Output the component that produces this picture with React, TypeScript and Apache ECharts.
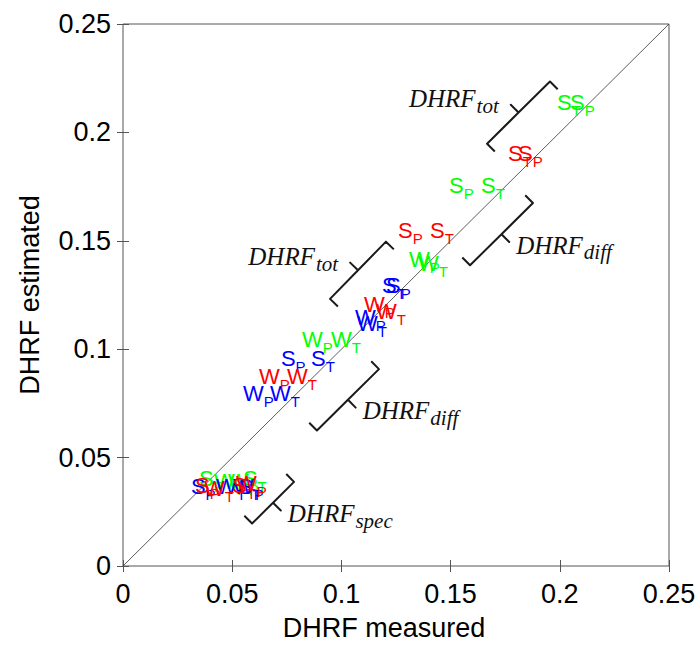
import React, { useEffect, useRef } from 'react';
import * as echarts from 'echarts';

// ---------- data ----------
const AXIS_MIN = 0;
const AXIS_MAX = 0.25;
const AXIS_STEP = 0.05;

const greenMeasured = [0.1987, 0.2047, 0.1493, 0.1639, 0.131, 0.1351, 0.082, 0.0952, 0.0348, 0.0549, 0.0417, 0.0481];
const greenEstimated = [0.2126, 0.2126, 0.1743, 0.1743, 0.1401, 0.1382, 0.1031, 0.1031, 0.0392, 0.0392, 0.0374, 0.0374];
const greenLabels = ['S_T', 'S_P', 'S_P', 'S_T', 'W_P', 'W_T', 'W_P', 'W_T', 'S_P', 'S_T', 'W_T', 'W_P'];

const redMeasured = [0.1763, 0.1809, 0.1259, 0.1406, 0.1103, 0.1158, 0.0623, 0.0751, 0.033, 0.0371, 0.0499, 0.0517];
const redEstimated = [0.1889, 0.1889, 0.1533, 0.1533, 0.1191, 0.1159, 0.0858, 0.0858, 0.0356, 0.0342, 0.0356, 0.0365];
const redLabels = ['S_T', 'S_P', 'S_P', 'S_T', 'W_P', 'W_T', 'W_P', 'W_T', 'S_P', 'W_T', 'S_T', 'W_P'];

const blueMeasured = [0.1186, 0.1204, 0.1062, 0.1071, 0.0723, 0.0861, 0.0549, 0.0673, 0.0311, 0.0426, 0.0504, 0.0526];
const blueEstimated = [0.1282, 0.1282, 0.1131, 0.1104, 0.0944, 0.0944, 0.078, 0.078, 0.0351, 0.0351, 0.0351, 0.0351];
const blueLabels = ['S_T', 'S_P', 'W_P', 'W_T', 'S_P', 'S_T', 'W_P', 'W_T', 'S_P', 'W_T', 'W_P', 'S_T'];

const identityLine = [
  [AXIS_MIN, AXIS_MIN],
  [AXIS_MAX, AXIS_MAX],
];

// braces: spine end points in data coordinates
const braceX1 = [0.1667, 0.0948, 0.1589, 0.0888, 0.0591];
const braceY1 = [0.1948, 0.1232, 0.1387, 0.0625, 0.0196];
const braceX2 = [0.1955, 0.1204, 0.1877, 0.1172, 0.0783];
const braceY2 = [0.2235, 0.1496, 0.1674, 0.0908, 0.0388];
const braceMain = ['DHRF', 'DHRF', 'DHRF', 'DHRF', 'DHRF'];
const braceSub = ['tot', 'tot', 'diff', 'diff', 'spec'];

// ---------- styles ----------
const SANS = '"Liberation Sans", Arial, Helvetica, sans-serif';
const SERIF = '"Liberation Serif", "Times New Roman", serif';
const PT_MAIN = 22;
const PT_SUB = 15;
const BR_MAIN = 25;
const BR_SUB = 21;

let measureCtx: CanvasRenderingContext2D | null = null;
function textWidth(t: string, font: string): number {
  if (!measureCtx) measureCtx = document.createElement('canvas').getContext('2d');
  if (!measureCtx) return t.length * 10;
  measureCtx.font = font;
  return measureCtx.measureText(t).width;
}

function pointSeries(xs: number[], ys: number[], labels: string[], color: string) {
  return {
    type: 'custom',
    coordinateSystem: 'cartesian2d',
    silent: true,
    data: xs.map((x, i) => [x, ys[i]]),
    encode: { x: 0, y: 1 },
    renderItem: (params: any, api: any) => {
      const p = api.coord([api.value(0), api.value(1)]);
      const [m, s] = labels[params.dataIndex].split('_');
      const mw = textWidth(m, `${PT_MAIN}px ${SANS}`);
      return {
        type: 'group',
        children: [
          {
            type: 'text',
            x: p[0],
            y: p[1] - 3,
            style: { text: m, fill: color, fontSize: PT_MAIN, fontFamily: SANS, align: 'left', verticalAlign: 'middle' },
          },
          {
            type: 'text',
            x: p[0] + mw,
            y: p[1] + 5,
            style: { text: s, fill: color, fontSize: PT_SUB, fontFamily: SANS, align: 'left', verticalAlign: 'middle' },
          },
        ],
      };
    },
  };
}

function braceSeries() {
  return {
    type: 'custom',
    coordinateSystem: 'cartesian2d',
    silent: true,
    data: braceX1.map((x, i) => [x, braceY1[i], braceX2[i], braceY2[i]]),
    encode: { x: [0, 2], y: [1, 3] },
    renderItem: (params: any, api: any) => {
      const x1 = api.value(0), y1 = api.value(1), x2 = api.value(2), y2 = api.value(3);
      const a = api.coord([x1, y1]);
      const b = api.coord([x2, y2]);
      const dx = b[0] - a[0], dy = b[1] - a[1];
      const len = Math.hypot(dx, dy);
      const ux = dx / len, uy = dy / len;
      let nx = -uy, ny = ux;
      const above = (y1 + y2) / 2 > (x1 + x2) / 2;
      if (!above) { nx = -nx; ny = -ny; }
      const H = 11;
      const m = [(a[0] + b[0]) / 2, (a[1] + b[1]) / 2];
      const tip = [m[0] - nx * H, m[1] - ny * H];
      const pts = [
        [a[0] + nx * H, a[1] + ny * H],
        a,
        m,
        tip,
        m,
        b,
        [b[0] + nx * H, b[1] + ny * H],
      ];
      const main = braceMain[params.dataIndex];
      const sub = braceSub[params.dataIndex];
      const mainFont = `italic ${BR_MAIN}px ${SERIF}`;
      const subFont = `italic ${BR_SUB}px ${SERIF}`;
      const mw = textWidth(main, mainFont);
      const sw = textWidth(sub, subFont);
      let lx: number, my: number;
      if (above) {
        lx = tip[0] - 13 - (mw + sw);
        my = tip[1] - 6;
      } else {
        lx = tip[0] + 7;
        my = tip[1] + 3;
      }
      return {
        type: 'group',
        children: [
          {
            type: 'polyline',
            shape: { points: pts },
            style: { stroke: '#1a1a1a', lineWidth: 2, fill: 'none', lineJoin: 'round' },
          },
          {
            type: 'text',
            x: lx,
            y: my,
            style: { text: main, fill: '#111', fontSize: BR_MAIN, fontFamily: SERIF, fontStyle: 'italic', align: 'left', verticalAlign: 'middle' },
          },
          {
            type: 'text',
            x: lx + mw + 1,
            y: my + 7,
            style: { text: sub, fill: '#111', fontSize: BR_SUB, fontFamily: SERIF, fontStyle: 'italic', align: 'left', verticalAlign: 'middle' },
          },
        ],
      };
    },
  };
}

const fmt = (v: number) => String(Number(v.toFixed(2)));

export default function App() {
  const ref = useRef<HTMLDivElement>(null);
  useEffect(() => {
    if (!ref.current) return;
    const chart = echarts.init(ref.current, undefined, { renderer: 'svg' });
    const axisCommon = {
      type: 'value',
      min: AXIS_MIN,
      max: AXIS_MAX,
      interval: AXIS_STEP,
      splitLine: { show: false },
      axisLine: { show: false },
      axisTick: { show: true, inside: true, length: 6, lineStyle: { color: '#555', width: 1 } },
    };
    chart.setOption({
      animation: false,
      backgroundColor: '#fff',
      grid: { left: 123, top: 24, width: 546, height: 548, show: true, borderColor: '#555', borderWidth: 1, backgroundColor: 'transparent' },
      xAxis: [
        {
          ...axisCommon,
          position: 'bottom',
          axisLabel: { fontSize: 27, color: '#000', fontFamily: SANS, margin: 14, formatter: fmt },
          name: 'DHRF measured',
          nameLocation: 'middle',
          nameGap: 48,
          nameTextStyle: { fontSize: 27, color: '#000', fontFamily: SANS, padding: [0, 24, 0, 0] },
        },
        { ...axisCommon, position: 'top', axisLabel: { show: false } },
      ],
      yAxis: [
        {
          ...axisCommon,
          position: 'left',
          axisLabel: { fontSize: 27, color: '#000', fontFamily: SANS, margin: 12, formatter: fmt },
          name: 'DHRF estimated',
          nameLocation: 'middle',
          nameGap: 80,
          nameTextStyle: { fontSize: 27, color: '#000', fontFamily: SANS },
        },
        { ...axisCommon, position: 'right', axisLabel: { show: false } },
      ],
      series: [
        {
          type: 'line',
          data: identityLine,
          symbol: 'none',
          silent: true,
          lineStyle: { color: '#333', width: 0.8 },
          z: 1,
        },
        braceSeries(),
        pointSeries(greenMeasured, greenEstimated, greenLabels, '#00ff00'),
        pointSeries(blueMeasured, blueEstimated, blueLabels, '#0000ff'),
        pointSeries(redMeasured, redEstimated, redLabels, '#ff0000'),
      ],
    });
    return () => chart.dispose();
  }, []);
  return <div ref={ref} style={{ position: 'absolute', left: 0, top: 0, width: 700, height: 646 }} />;
}
